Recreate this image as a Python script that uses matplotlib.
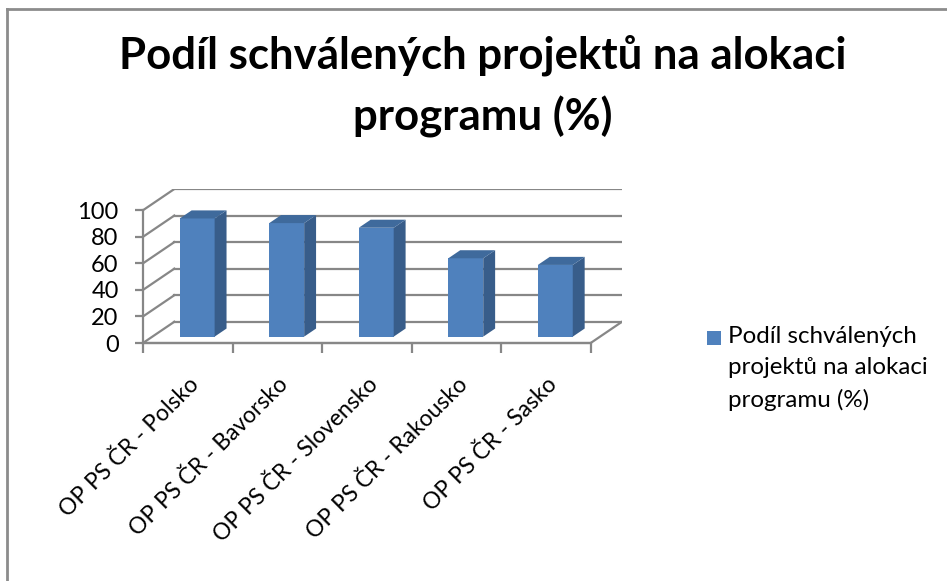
import matplotlib.pyplot as plt
from matplotlib.patches import Polygon, Rectangle
from matplotlib.lines import Line2D

categories = ["OP PS ČR - Polsko", "OP PS ČR - Bavorsko", "OP PS ČR - Slovensko",
              "OP PS ČR - Rakousko", "OP PS ČR - Sasko"]
values = [89, 85.5, 82, 59, 54]
y_ticks = [0, 20, 40, 60, 80, 100]
title = "Podíl schválených projektů na alokaci\nprogramu (%)"
series_name = "Podíl schválených\nprojektů na alokaci\nprogramu (%)"

plt.rcParams['font.family'] = ['Lato', 'DejaVu Sans']

BLUE = "#4F81BD"
SIDE = "#385D8A"
TOP = "#3F6A9C"
GRID = "#878787"

W, H = 947, 581
fig = plt.figure(figsize=(W / 100, H / 100), dpi=100)

# fake 3d depth (data units) and bar placement inside the box
DX = 0.35
DY = 16
F0 = 0.3   # depth where bar front face sits
BD = 0.38  # bar depth
BW = 0.39  # bar width

ax = fig.add_axes([143 / W, (H - 343) / H, (622 - 143) / W, (343 - 189) / H])
ax.set_xlim(0, len(values) + DX)
ax.set_ylim(0, 100 + DY)
ax.patch.set_visible(False)

n = len(values)
# back wall gridlines + left wall diagonals
for t in y_ticks:
    ax.plot([DX, n + DX], [t + DY, t + DY], color=GRID, lw=1.6, zorder=1)
    ax.plot([0, DX], [t, t + DY], color=GRID, lw=1.6, zorder=1)
# floor front + right edges
ax.plot([0, n], [0, 0], color=GRID, lw=1.6, zorder=1, clip_on=False)
ax.plot([n, n + DX], [0, DY], color=GRID, lw=1.6, zorder=1)

# bars: front face, side, top
xs = [i + 0.5 - BW / 2 + F0 * DX for i in range(n)]
ax.bar(xs, values, width=BW, bottom=F0 * DY, align='edge', color=BLUE, zorder=3)
for x0, v in zip(xs, values):
    y0 = F0 * DY
    ddx, ddy = BD * DX, BD * DY
    ax.add_patch(Polygon([(x0 + BW, y0), (x0 + BW + ddx, y0 + ddy),
                          (x0 + BW + ddx, y0 + v + ddy), (x0 + BW, y0 + v)],
                         closed=True, facecolor=SIDE, edgecolor='none', zorder=3))
    ax.add_patch(Polygon([(x0, y0 + v), (x0 + BW, y0 + v),
                          (x0 + BW + ddx, y0 + v + ddy), (x0 + ddx, y0 + v + ddy)],
                         closed=True, facecolor=TOP, edgecolor='none', zorder=3))

for s in ['top', 'right']:
    ax.spines[s].set_visible(False)
ax.spines['left'].set_bounds(0, 100)
ax.spines['bottom'].set_bounds(0, n)
for s in ['left', 'bottom']:
    ax.spines[s].set_color(GRID)
    ax.spines[s].set_linewidth(1.6)

ax.set_yticks(y_ticks)
ax.set_yticklabels([str(t) for t in y_ticks], fontsize=17)
ax.tick_params(axis='y', length=6, width=1.6, color=GRID, pad=11.5)

ax.set_xticks(range(n + 1))
ax.set_xticklabels([])
ax.tick_params(axis='x', which='major', length=7, width=1.6, color=GRID)
ax.set_xticks([i + 0.5 for i in range(n)], minor=True)
ax.set_xticklabels(categories, minor=True, fontsize=16.5, rotation=45,
                   ha='right', va='top', rotation_mode='anchor')
ax.tick_params(axis='x', which='minor', length=0, pad=22)

fig.text(483 / W, 1 - 34 / H, title, ha='center', va='top', fontsize=31.5,
         fontweight='bold', linespacing=1.6)

# legend drawn by hand so the key sits on the first line
fig.add_artist(Rectangle((707 / W, 1 - 345 / H), 14 / W, 14 / H,
                         transform=fig.transFigure, facecolor=BLUE, edgecolor='none'))
fig.text(728 / W, 1 - 326 / H, series_name, ha='left', va='top', fontsize=17.4,
         linespacing=1.6)

# outer chart frame (left and top edges visible)
fig.add_artist(Line2D([7 / W, 7 / W], [0, 1 - 9 / H], transform=fig.transFigure,
                      color="#8c8c8c", lw=2))
fig.add_artist(Line2D([7 / W, 1], [1 - 9 / H, 1 - 9 / H], transform=fig.transFigure,
                      color="#8c8c8c", lw=2))

fig.savefig("out.png", dpi=100)
